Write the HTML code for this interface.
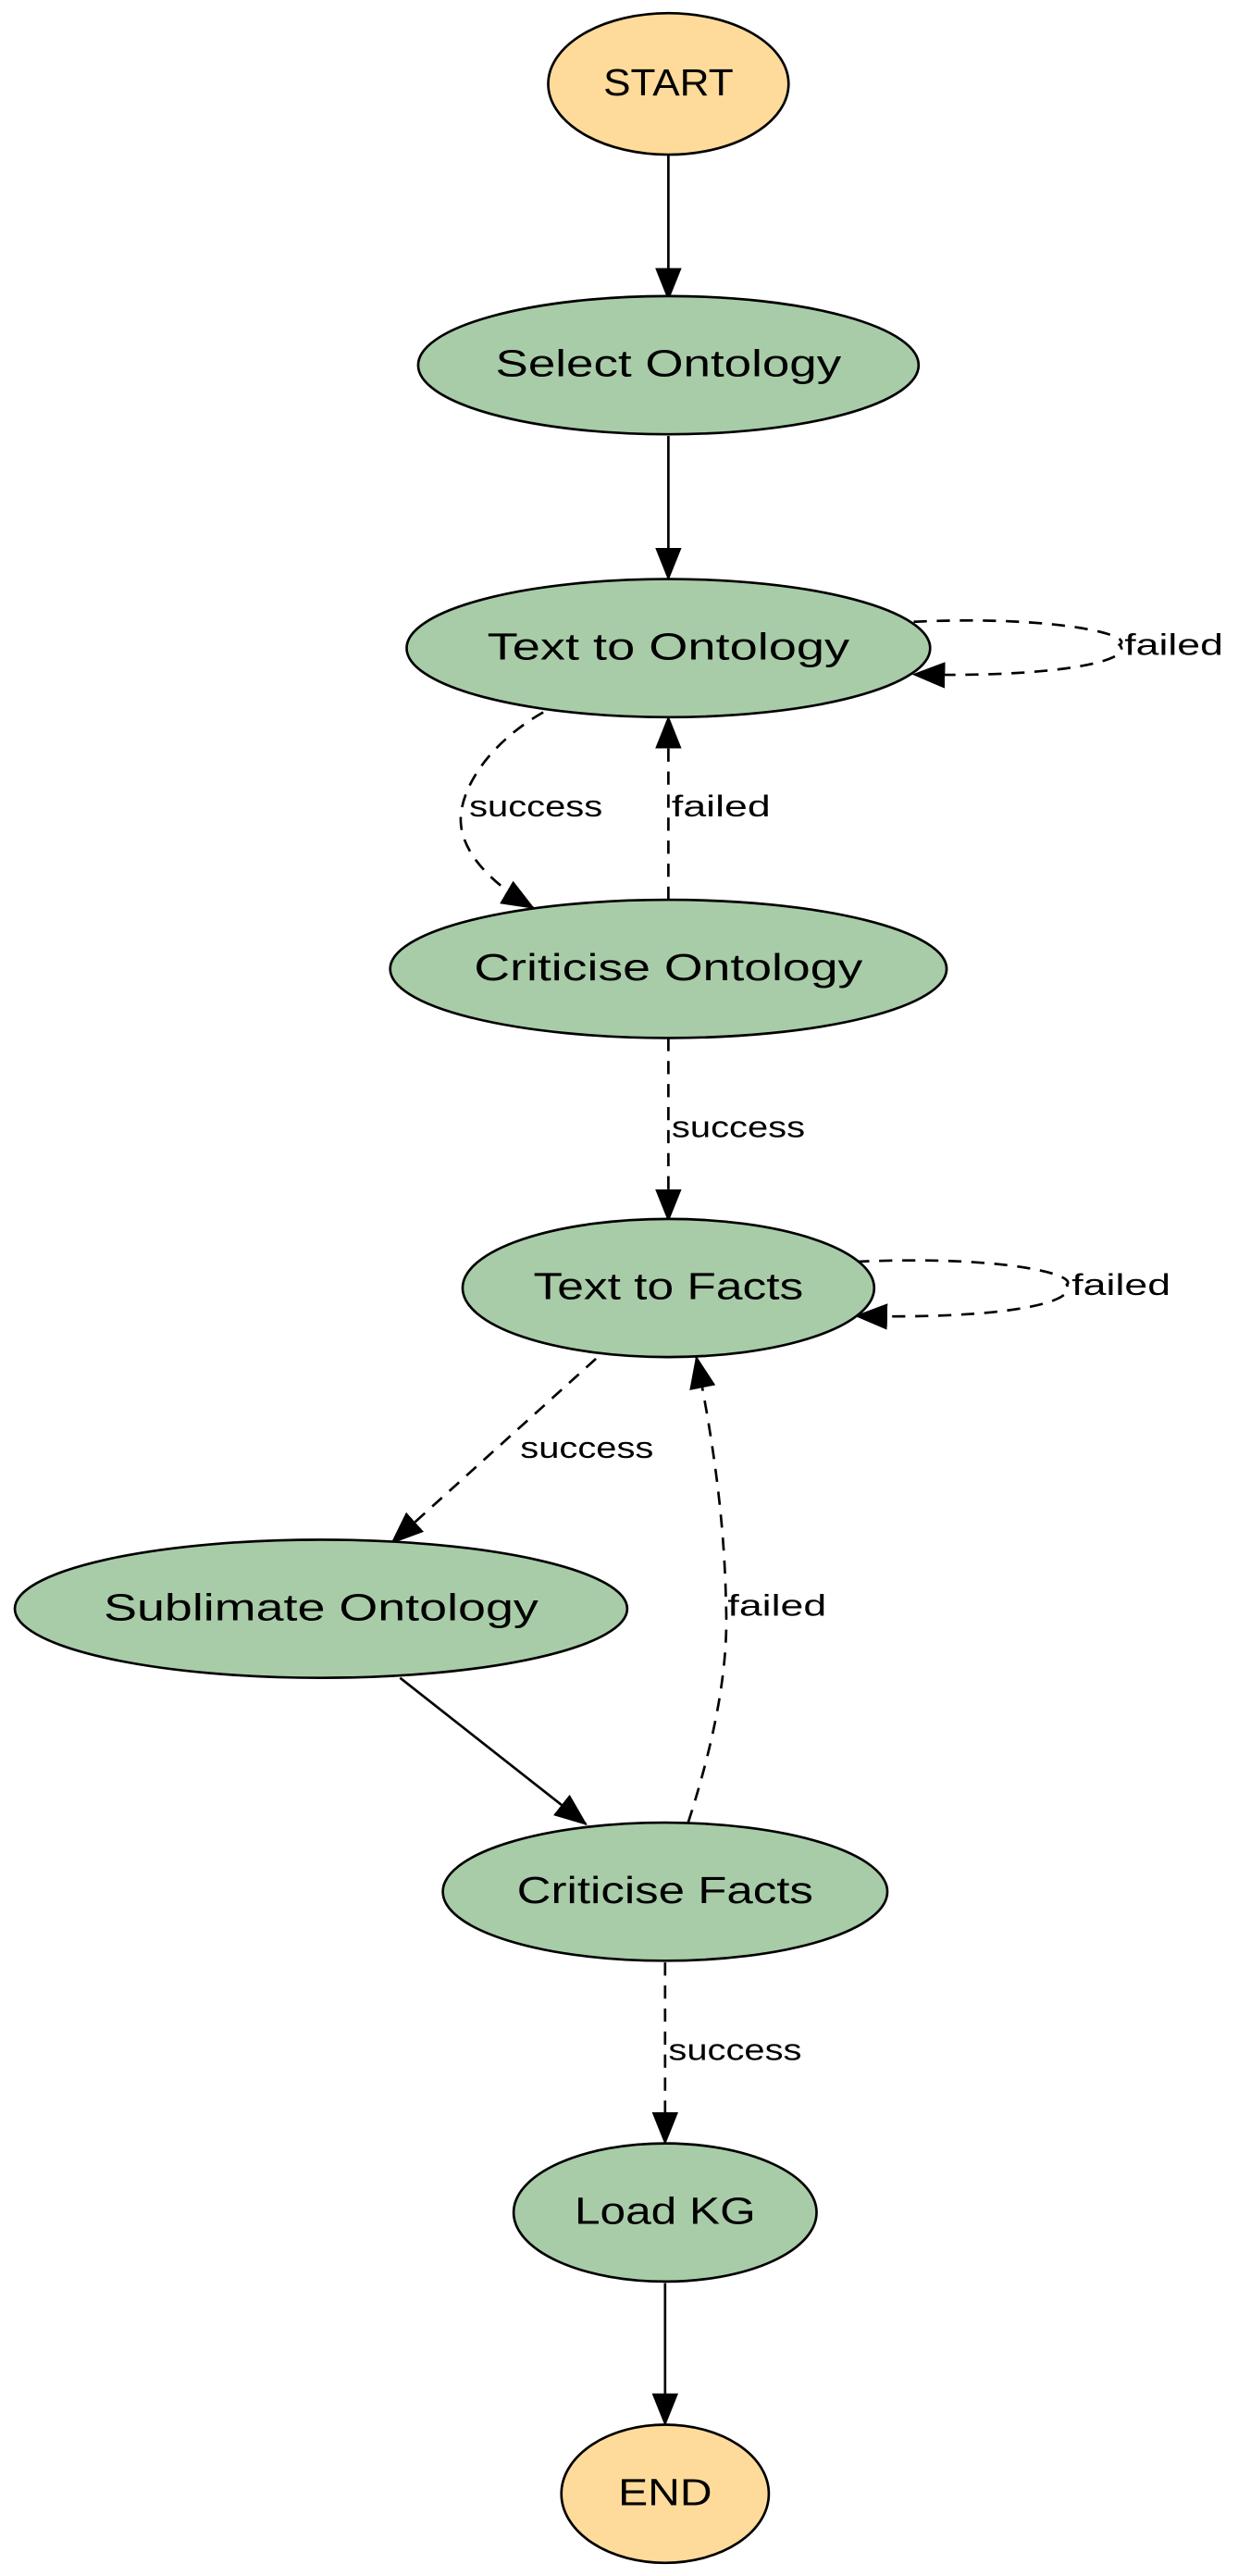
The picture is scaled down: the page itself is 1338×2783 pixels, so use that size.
<!DOCTYPE html>
<html><head><meta charset="utf-8"><style>
html,body{margin:0;padding:0;background:#fff;}
svg{display:block;}
text{font-family:"Liberation Sans","DejaVu Sans",sans-serif;fill:#000;}
.n{font-size:23px;text-anchor:middle;dominant-baseline:central;}
.l{font-size:18px;dominant-baseline:central;}
.g{fill:#a8cca8;stroke:#000;stroke-width:1.5;}
.y{fill:#fedb9a;stroke:#000;stroke-width:1.5;}
.e{fill:none;stroke:#000;stroke-width:1.5;}
.d{stroke-dasharray:8,6;}
</style></head><body>
<svg width="1338" height="2783" viewBox="0 0 752 1566" preserveAspectRatio="none" xmlns="http://www.w3.org/2000/svg">
<defs><marker id="a" markerWidth="20" markerHeight="16" refX="19" refY="8" orient="auto" markerUnits="userSpaceOnUse"><path d="M0,0 L20,8 L0,16 Z" fill="#000"/></marker></defs>
<path class="e" d="M406,94 L406,182" marker-end="url(#a)"/>
<path class="e" d="M406,265 L406,352" marker-end="url(#a)"/>
<path class="e d" d="M555,378 C640,374 690,386 680,392 C690,402 640,412 555,410" marker-end="url(#a)"/>
<text class="l" x="683" y="392" textLength="60" lengthAdjust="spacingAndGlyphs">failed</text>
<path class="e d" d="M330,433 C300,450 282,475 280,495 C278,515 295,535 324,552" marker-end="url(#a)"/>
<text class="l" x="285" y="490" textLength="81" lengthAdjust="spacingAndGlyphs">success</text>
<path class="e d" d="M406,547 L406,436" marker-end="url(#a)"/>
<text class="l" x="408" y="490" textLength="60" lengthAdjust="spacingAndGlyphs">failed</text>
<path class="e d" d="M406,631 L406,742" marker-end="url(#a)"/>
<text class="l" x="408" y="685" textLength="81" lengthAdjust="spacingAndGlyphs">success</text>
<path class="e d" d="M520,767 C610,763 655,775 648,781 C655,792 610,802 520,800" marker-end="url(#a)"/>
<text class="l" x="651" y="781" textLength="60" lengthAdjust="spacingAndGlyphs">failed</text>
<path class="e d" d="M362,826 L238,938" marker-end="url(#a)"/>
<text class="l" x="316" y="880" textLength="81" lengthAdjust="spacingAndGlyphs">success</text>
<path class="e" d="M243,1020 L356,1109" marker-end="url(#a)"/>
<path class="e d" d="M418,1108 C440,1040 442,1000 441,975 C440,920 432,870 423,825" marker-end="url(#a)"/>
<text class="l" x="442" y="976" textLength="60" lengthAdjust="spacingAndGlyphs">failed</text>
<path class="e d" d="M404,1193 L404,1303" marker-end="url(#a)"/>
<text class="l" x="406" y="1246" textLength="81" lengthAdjust="spacingAndGlyphs">success</text>
<path class="e" d="M404,1388 L404,1474" marker-end="url(#a)"/>
<ellipse class="y" cx="406" cy="51" rx="73" ry="43"/><text class="n" x="406" y="50" textLength="79" lengthAdjust="spacingAndGlyphs">START</text>
<ellipse class="g" cx="406" cy="222" rx="152" ry="42"/><text class="n" x="406" y="221" textLength="210" lengthAdjust="spacingAndGlyphs">Select Ontology</text>
<ellipse class="g" cx="406" cy="394" rx="159" ry="42"/><text class="n" x="406" y="393" textLength="220" lengthAdjust="spacingAndGlyphs">Text to Ontology</text>
<ellipse class="g" cx="406" cy="589" rx="169" ry="42"/><text class="n" x="406" y="588" textLength="236" lengthAdjust="spacingAndGlyphs">Criticise Ontology</text>
<ellipse class="g" cx="406" cy="783" rx="125" ry="42"/><text class="n" x="406" y="782" textLength="164" lengthAdjust="spacingAndGlyphs">Text to Facts</text>
<ellipse class="g" cx="195" cy="978" rx="186" ry="42"/><text class="n" x="195" y="977" textLength="264" lengthAdjust="spacingAndGlyphs">Sublimate Ontology</text>
<ellipse class="g" cx="404" cy="1150" rx="135" ry="42"/><text class="n" x="404" y="1149" textLength="180" lengthAdjust="spacingAndGlyphs">Criticise Facts</text>
<ellipse class="g" cx="404" cy="1345" rx="92" ry="42"/><text class="n" x="404" y="1344" textLength="110" lengthAdjust="spacingAndGlyphs">Load KG</text>
<ellipse class="y" cx="404" cy="1516" rx="63" ry="42"/><text class="n" x="404" y="1515" textLength="57" lengthAdjust="spacingAndGlyphs">END</text>
</svg>
</body></html>
